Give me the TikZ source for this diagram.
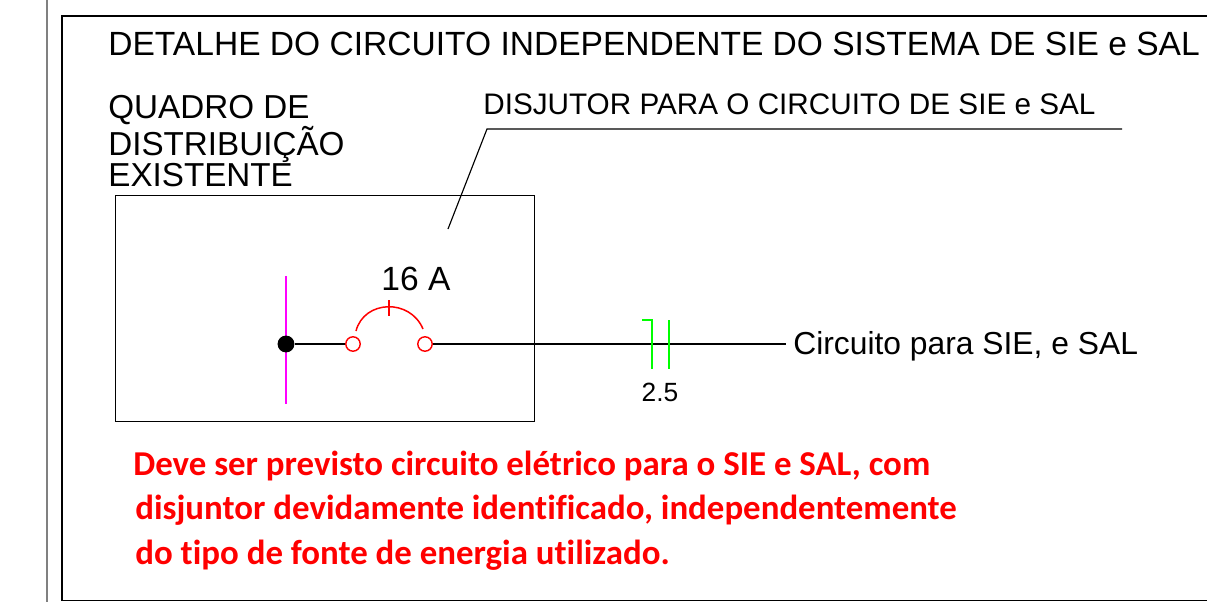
\documentclass[tikz,border=0pt]{standalone}
\usepackage{fontspec}
\setmainfont{Liberation Sans}
\newfontfamily\notefont[Ligatures=CommonOff]{Carlito}
\usetikzlibrary{calc}
\definecolor{framegray}{gray}{0.5}
\definecolor{busmagenta}{RGB}{255,0,255}
\definecolor{wiregreen}{RGB}{0,255,0}
\tikzset{
  label/.style={anchor=base west, inner sep=0pt, text=black},
  bigtext/.style={label, font=\fontsize{19.1pt}{19.1pt}\selectfont},
  headtext/.style={label, font=\fontsize{18.9pt}{18.9pt}\selectfont},
  midtext/.style={label, font=\fontsize{16.9pt}{16.9pt}\selectfont},
  note/.style={anchor=base west, inner sep=0pt, text=red, font=\notefont\bfseries\fontsize{19.85pt}{19.85pt}\selectfont},
  contact/.style={circle, draw=red, fill=white, line width=0.8pt, minimum size=8.2pt, inner sep=0pt},
  busdot/.style={circle, fill=black, minimum size=9.6pt, inner sep=0pt},
  wire/.style={black, line width=0.65pt}
}
\begin{document}
\begin{tikzpicture}[x=0.02cm,y=-0.02cm]
       \useasboundingbox (0, 0) rectangle (1207, 602);
       % frames
       \draw[framegray, line width=1pt] (47, 0) -- (47, 602);
       \draw[black, line width=0.8pt] (1207, 16) -- (62, 16) -- (62, 600.5) -- (1207, 600.5);

       % texts
       \node[bigtext] (title) at (108, 55) {DETALHE DO CIRCUITO INDEPENDENTE DO SISTEMA DE SIE e SAL};
       \node[headtext] (quadro1) at (108, 118) {QUADRO DE};
       \node[headtext] (quadro2) at (108, 155) {DISTRIBUIÇÃO};
       \node[headtext] (quadro3) at (108, 186) {EXISTENTE};
       \node[midtext] (disjuntor) at (483, 114) {DISJUTOR PARA O CIRCUITO DE SIE e SAL};

       % panel
       \node[draw=black, line width=0.75pt, minimum width=419*0.02cm, minimum height=226*0.02cm, inner sep=0pt, anchor=north west] (panel) at (114.5, 194.5) {};

       % leader
       \coordinate (leadA) at (448, 229);
       \coordinate (leadB) at (487, 129);
       \coordinate (leadC) at (1122, 129);
       \draw[wire] (leadA) -- (leadB) -- (leadC);

       % bus
       \coordinate (busT) at (286, 276);
       \coordinate (busB) at (286, 404);
       \draw[busmagenta, line width=0.85pt] (busT) -- (busB);
       \node[busdot] (dot) at (286, 344) {};

       % breaker
       \node[contact] (c1) at (353, 344) {};
       \node[contact] (c2) at (425, 344) {};
       \node[bigtext, anchor=base] (amps) at (416, 290) {16 A};
       \coordinate (arcL) at (356, 331);
       \coordinate (arcR) at (423, 329);
       \coordinate (tickT) at (389, 300);
       \coordinate (tickB) at (389, 316);
       \draw[red, line width=0.85pt] (arcL) .. controls (364, 300) and (410, 298) .. (arcR);
       \draw[red, line width=0.85pt] (tickT) -- (tickB);

       % circuit
       \node[label, font=\fontsize{18.1pt}{18.1pt}\selectfont] (circuito) at (793, 354) {Circuito para SIE, e SAL};
       \coordinate (wireEnd) at (786, 344);
       \draw[wire] (dot) -- (c1);
       \draw[wire] (c2) -- (wireEnd);

       % conductor marks
       \coordinate (hook) at (642, 320);
       \coordinate (markA) at (652, 320);
       \coordinate (markB) at (652, 369);
       \coordinate (markC) at (669, 320);
       \coordinate (markD) at (669, 369);
       \draw[wiregreen, line width=0.85pt] (hook) -- (markA) -- (markB);
       \draw[wiregreen, line width=0.85pt] (markC) -- (markD);
       \node[label, anchor=base, font=\fontsize{15pt}{15pt}\selectfont] (gauge) at (660, 401) {2.5};

       % note
       \node[note] (note1) at (133, 475) {Deve ser previsto circuito elétrico para o SIE e SAL, com};
       \node[note] (note2) at (135, 519) {disjuntor devidamente identificado, independentemente};
       \node[note] (note3) at (135, 564) {do tipo de fonte de energia utilizado.};
\end{tikzpicture}
\end{document}
